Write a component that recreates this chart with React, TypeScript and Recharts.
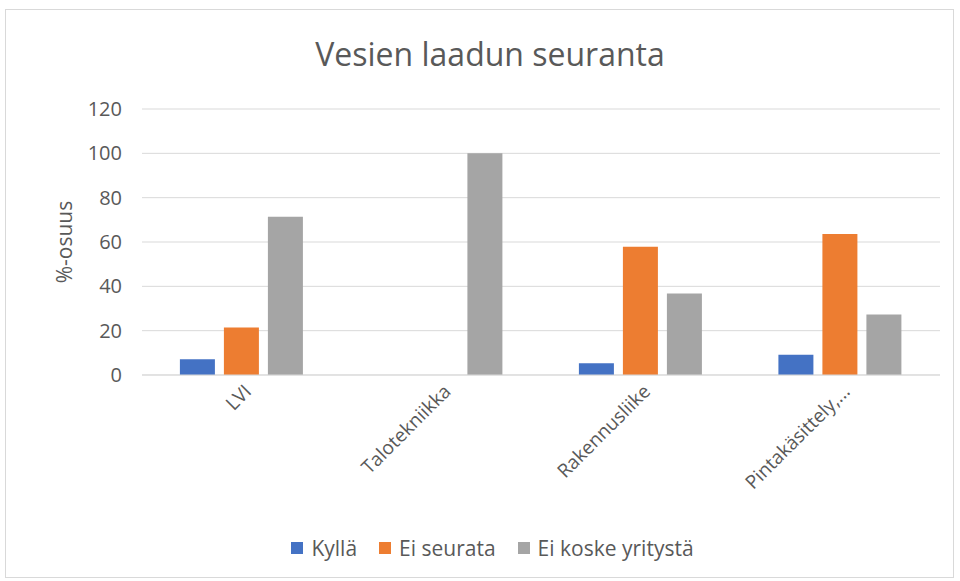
import { BarChart, Bar, XAxis, YAxis, CartesianGrid, Legend } from "recharts";

const categories = ["LVI", "Talotekniikka", "Rakennusliike", "Pintakäsittely,..."];
const kylla = [7.1, 0, 5.3, 9.1];
const eiSeurata = [21.4, 0, 57.9, 63.6];
const eiKoske = [71.4, 100, 36.8, 27.3];
const yTicks = [0, 20, 40, 60, 80, 100, 120];
const seriesNames = ["Kyllä", "Ei seurata", "Ei koske yritystä"];

const data = categories.map((name, i) => ({
  name,
  kylla: kylla[i],
  eiSeurata: eiSeurata[i],
  eiKoske: eiKoske[i],
}));

const FONT = "'Open Sans', 'Noto Sans', sans-serif";
const TEXT = "#595959";

function XTick(props: any) {
  const { x, y, payload } = props;
  return (
    <g transform={`translate(${x + 6},${y + 5}) rotate(-45)`}>
      <text x={0} y={0} dy="0.35em" textAnchor="end" fill={TEXT} fontSize={19} fontFamily={FONT}>
        {payload.value}
      </text>
    </g>
  );
}

// legend in fixed series order (recharts sorts by name otherwise)
function LegendBox(props: any) {
  const items = [...(props.payload || [])].sort(
    (a: any, b: any) => seriesNames.indexOf(a.value) - seriesNames.indexOf(b.value),
  );
  return (
    <div style={{ display: "flex", justifyContent: "center", paddingLeft: 45 }}>
      {items.map((it: any) => (
        <div key={it.value} style={{ display: "flex", alignItems: "center", margin: "0 11px" }}>
          <span style={{ width: 12, height: 12, background: it.color, marginRight: 8, display: "inline-block" }} />
          <span style={{ color: TEXT, fontFamily: FONT, fontSize: 21 }}>{it.value}</span>
        </div>
      ))}
    </div>
  );
}

export default function App() {
  return (
    <div style={{ position: "absolute", left: 0, top: 0, width: 960, height: 581, background: "#fff" }}>
      <div
        style={{
          position: "absolute",
          left: 5,
          top: 9,
          width: 947,
          height: 567,
          border: "1px solid #d9d9d9",
        }}
      />
      <div
        style={{
          position: "absolute",
          left: 240,
          width: 500,
          top: 32,
          textAlign: "center",
          fontFamily: FONT,
          fontSize: 32,
          color: TEXT,
        }}
      >
        Vesien laadun seuranta
      </div>
      <div style={{ position: "absolute", left: 0, top: 0 }}>
        <BarChart
          width={960}
          height={581}
          data={data}
          margin={{ top: 109, right: 20, left: 0, bottom: 0 }}
          barCategoryGap="19%"
          barGap={9}
        >
          <CartesianGrid vertical={false} stroke="#d9d9d9" />
          <XAxis
            dataKey="name"
            height={150}
            axisLine={{ stroke: "#d9d9d9" }}
            tickLine={false}
            interval={0}
            tick={<XTick />}
          />
          <YAxis
            width={142}
            domain={[0, 120]}
            ticks={yTicks}
            axisLine={false}
            tickLine={false}
            tickMargin={14}
            tick={{ fill: TEXT, fontSize: 20, fontFamily: FONT }}
            label={{
              value: "%-osuus",
              angle: -90,
              position: "insideLeft",
              offset: 65,
              fill: TEXT,
              fontSize: 21,
              fontFamily: FONT,
              style: { textAnchor: "middle" },
            }}
          />
          <Legend
            verticalAlign="bottom"
            height={56}
            content={<LegendBox />}
            wrapperStyle={{ top: 534 }}
          />
          <Bar dataKey="kylla" name={seriesNames[0]} fill="#4472c4" isAnimationActive={false} />
          <Bar dataKey="eiSeurata" name={seriesNames[1]} fill="#ed7d31" isAnimationActive={false} />
          <Bar dataKey="eiKoske" name={seriesNames[2]} fill="#a5a5a5" isAnimationActive={false} />
        </BarChart>
      </div>
    </div>
  );
}
